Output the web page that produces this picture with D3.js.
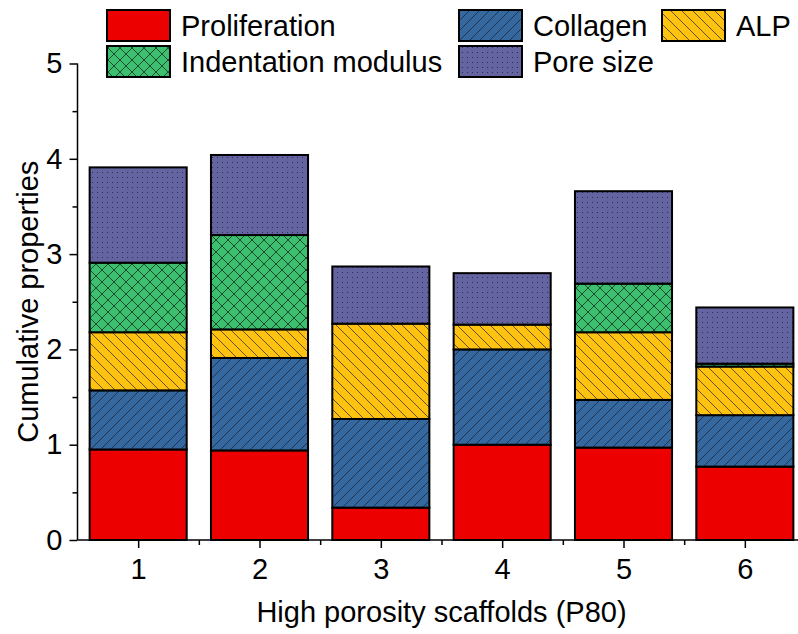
<!DOCTYPE html>
<html>
<head>
<meta charset="utf-8">
<script src="https://cdn.jsdelivr.net/npm/d3@7"></script>
<style>
  html, body { margin: 0; padding: 0; background: #fff; }
  svg { display: block; font-family: "Liberation Sans", Arial, sans-serif; }
</style>
</head>
<body>
<svg id="chart" width="798" height="634"></svg>
<script>
// Scaffold categories (high porosity, P80)
const scaffolds = [1, 2, 3, 4, 5, 6];

// Normalised property contributions per scaffold, stacked bottom to top
const proliferation = [0.95, 0.94, 0.34, 1.00, 0.97, 0.77];
const collagen      = [0.62, 0.97, 0.93, 1.00, 0.50, 0.54];
const alp           = [0.61, 0.30, 1.00, 0.26, 0.71, 0.51];
const indentation   = [0.73, 0.99, 0.00, 0.00, 0.51, 0.03];
const poreSize      = [1.00, 0.84, 0.60, 0.54, 0.97, 0.59];

const seriesNames = ["Proliferation", "Collagen", "ALP", "Indentation modulus", "Pore size"];
const yTicks = [0, 1, 2, 3, 4, 5];

const keys = ["prolif", "collagen", "alp", "indent", "pore"];
const rows = scaffolds.map((s, i) => ({
  scaffold: s,
  prolif: proliferation[i],
  collagen: collagen[i],
  alp: alp[i],
  indent: indentation[i],
  pore: poreSize[i]
}));

const svg = d3.select("#chart");

// Fill patterns for each property
const defs = svg.append("defs");
const hatchColor = "#1a1a2a";

function diagPattern(id, bg, spacing, dir) {
  const p = defs.append("pattern").attr("id", id)
    .attr("patternUnits", "userSpaceOnUse")
    .attr("width", spacing).attr("height", spacing);
  p.append("rect").attr("width", spacing).attr("height", spacing).attr("fill", bg);
  const s = spacing;
  const segs = dir === "/"
    ? [[0, s, s, 0], [-s / 2, s / 2, s / 2, -s / 2], [s / 2, s * 1.5, s * 1.5, s / 2]]
    : [[0, 0, s, s], [-s / 2, s / 2, s / 2, s * 1.5], [s / 2, -s / 2, s * 1.5, s / 2]];
  segs.forEach(d => p.append("line")
    .attr("x1", d[0]).attr("y1", d[1]).attr("x2", d[2]).attr("y2", d[3])
    .attr("stroke", hatchColor).attr("stroke-width", 0.8).attr("stroke-opacity", 0.85));
}

diagPattern("pat-collagen", "#35689f", 10, "/");
diagPattern("pat-alp", "#fec210", 11, "\\");

// cross-hatch
(function () {
  const s = 12;
  const p = defs.append("pattern").attr("id", "pat-indent")
    .attr("patternUnits", "userSpaceOnUse").attr("width", s).attr("height", s);
  p.append("rect").attr("width", s).attr("height", s).attr("fill", "#3dbf70");
  [[0, 0, s, s], [0, s, s, 0]].forEach(d => p.append("line")
    .attr("x1", d[0]).attr("y1", d[1]).attr("x2", d[2]).attr("y2", d[3])
    .attr("stroke", "#17402a").attr("stroke-width", 0.9));
})();

// dotted
(function () {
  const s = 5;
  const p = defs.append("pattern").attr("id", "pat-pore")
    .attr("patternUnits", "userSpaceOnUse").attr("width", s).attr("height", s);
  p.append("rect").attr("width", s).attr("height", s).attr("fill", "#6464a0");
  p.append("rect").attr("x", 2).attr("y", 2).attr("width", 1).attr("height", 1)
    .attr("fill", "#2e2e5c");
})();

const fills = {
  prolif: "#ec0000",
  collagen: "url(#pat-collagen)",
  alp: "url(#pat-alp)",
  indent: "url(#pat-indent)",
  pore: "url(#pat-pore)"
};

// Scales
const x = d3.scaleLinear().domain([0.5, 6.5]).range([77.5, 805.5]);
const y = d3.scaleLinear().domain([0, 5]).range([540, 63.5]);
const barW = 0.8;

const stacked = d3.stack().keys(keys)(rows);

// Bars
const g = svg.append("g");
stacked.forEach(layer => {
  g.selectAll(null)
    .data(layer.filter(d => d[1] - d[0] > 0))
    .enter().append("rect")
    .attr("x", d => x(d.data.scaffold - barW / 2))
    .attr("width", d => x(d.data.scaffold + barW / 2) - x(d.data.scaffold - barW / 2))
    .attr("y", d => y(d[1]))
    .attr("height", d => y(d[0]) - y(d[1]))
    .attr("fill", fills[layer.key])
    .attr("stroke", "#000")
    .attr("stroke-width", 2);
});

// Y axis
const yAxis = svg.append("g").attr("transform", `translate(${x(0.5)},0)`)
  .call(d3.axisLeft(y).tickValues(yTicks).tickFormat(d3.format("d")).tickSize(8).tickPadding(7));
svg.append("g").attr("transform", `translate(${x(0.5)},0)`)
  .call(d3.axisLeft(y).tickValues([0.5, 1.5, 2.5, 3.5, 4.5]).tickFormat("").tickSize(5))
  .select(".domain").remove();

// X axis
const xAxis = svg.append("g").attr("transform", `translate(0,${y(0)})`)
  .call(d3.axisBottom(x).tickValues(scaffolds).tickFormat(d3.format("d")).tickSize(8).tickPadding(10));
svg.append("g").attr("transform", `translate(0,${y(0)})`)
  .call(d3.axisBottom(x).tickValues([1.5, 2.5, 3.5, 4.5, 5.5]).tickFormat("").tickSize(5))
  .select(".domain").remove();

svg.selectAll(".domain").attr("stroke", "#000").attr("stroke-width", 1.5);
svg.selectAll(".tick line").attr("stroke", "#000").attr("stroke-width", 1.5);
svg.selectAll(".tick text").attr("font-size", 29).attr("fill", "#000")
  .attr("font-family", "'Liberation Sans', Arial, sans-serif");
// domain paths drawn without outer ticks
yAxis.select(".domain").attr("d", `M0,${y(5)}V${y(0)}`);
xAxis.select(".domain").attr("d", `M${x(0.5)},0H${x(6.5)}`);

// Axis titles
svg.append("text")
  .attr("x", (x(0.5) + x(6.5)) / 2).attr("y", 622)
  .attr("text-anchor", "middle").attr("font-size", 29)
  .text("High porosity scaffolds (P80)");
svg.append("text")
  .attr("transform", `translate(38,${y(2.5)}) rotate(-90)`)
  .attr("text-anchor", "middle").attr("font-size", 29)
  .text("Cumulative properties");

// Legend
const legendItems = [
  { key: "prolif", name: seriesNames[0], x: 107, y: 10 },
  { key: "collagen", name: seriesNames[1], x: 459, y: 10 },
  { key: "alp", name: seriesNames[2], x: 662, y: 10 },
  { key: "indent", name: seriesNames[3], x: 107, y: 46 },
  { key: "pore", name: seriesNames[4], x: 459, y: 46 }
];
const lg = svg.append("g");
legendItems.forEach(it => {
  lg.append("rect").attr("x", it.x).attr("y", it.y).attr("width", 63).attr("height", 31)
    .attr("fill", fills[it.key]).attr("stroke", "#000").attr("stroke-width", 2);
  lg.append("text").attr("x", it.x + 74).attr("y", it.y + 26)
    .attr("font-size", 29).text(it.name);
});
</script>
</body>
</html>
